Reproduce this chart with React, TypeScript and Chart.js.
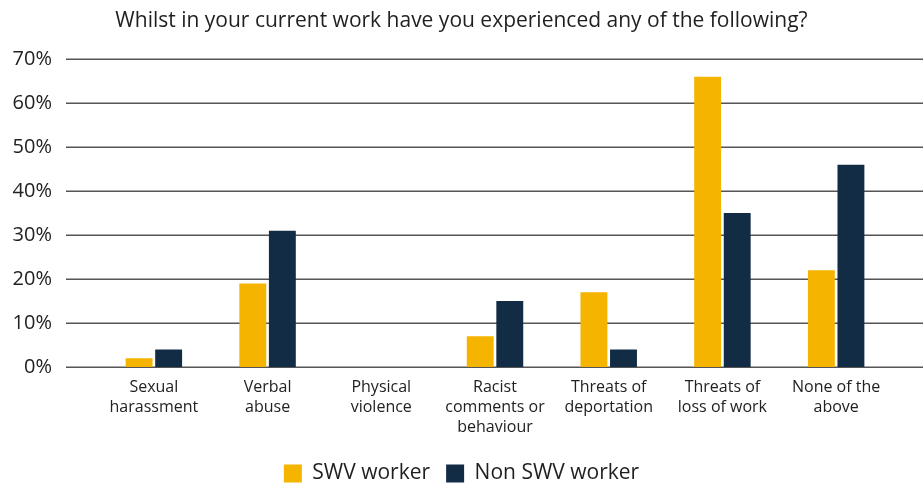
import React, { useEffect, useRef } from "react";
import { Chart, registerables } from "chart.js";

Chart.register(...registerables);

const categories: string[][] = [
  ["Sexual", "harassment"],
  ["Verbal", "abuse"],
  ["Physical", "violence"],
  ["Racist", "comments or", "behaviour"],
  ["Threats of", "deportation"],
  ["Threats of", "loss of work"],
  ["None of the", "above"],
];
const swvWorker = [2, 19, 0, 7, 17, 66, 22];
const nonSwvWorker = [4, 31, 0, 15, 4, 35, 46];
const yMax = 70;
const yStep = 10;

const FONT = "'Open Sans', 'Noto Sans', sans-serif";

const fullGrid = {
  id: "fullGrid",
  beforeDatasetsDraw(chart: any) {
    const { ctx, scales, width } = chart;
    const y = scales.y;
    ctx.save();
    ctx.strokeStyle = "#555555";
    ctx.lineWidth = 1.5;
    y.ticks.forEach((t: any) => {
      const py = Math.round(y.getPixelForValue(t.value)) + 0.25;
      ctx.beginPath();
      ctx.moveTo(66, py);
      ctx.lineTo(width, py);
      ctx.stroke();
    });
    ctx.restore();
  },
};

export default function App() {
  const ref = useRef<HTMLCanvasElement | null>(null);
  useEffect(() => {
    if (!ref.current) return;
    const chart = new Chart(ref.current, {
      type: "bar",
      data: {
        labels: categories,
        datasets: [
          {
            label: "SWV worker",
            data: swvWorker,
            backgroundColor: "#F4B400",
            barPercentage: 0.91,
            categoryPercentage: 0.52,
          },
          {
            label: "Non SWV worker",
            data: nonSwvWorker,
            backgroundColor: "#132C45",
            barPercentage: 0.91,
            categoryPercentage: 0.52,
          },
        ],
      },
      options: {
        responsive: false,
        animation: false,
        layout: { padding: { left: 0, right: 0, top: 0, bottom: -9 } },
        plugins: {
          title: {
            display: true,
            text: "Whilst in your current work have you experienced any of the following?",
            color: "#1f1f1f",
            font: { family: FONT, size: 21, weight: "normal" },
            padding: { top: 8, bottom: 26 },
          },
          legend: {
            position: "bottom",
            labels: {
              color: "#1f1f1f",
              font: { family: FONT, size: 21 },
              boxWidth: 18,
              boxHeight: 18,
              padding: 16,
            },
          },
          tooltip: { enabled: false },
        },
        scales: {
          x: {
            grid: { display: false, drawTicks: false },
            border: { display: false },
            ticks: {
              color: "#222222",
              font: { family: FONT, size: 16, lineHeight: 1.25 },
              maxRotation: 0,
              autoSkip: false,
              padding: 10,
            },
          },
          y: {
            min: 0,
            max: yMax,
            grid: { display: false, drawTicks: false },
            border: { display: false },
            ticks: {
              stepSize: yStep,
              color: "#222222",
              font: { family: FONT, size: 20 },
              padding: 45,
              callback: (v: any) => v + "%",
            },
            afterFit: (scale: any) => {
              scale.width = 97;
            },
          },
          yRight: {
            position: "right",
            display: true,
            grid: { display: false, drawTicks: false },
            border: { display: false },
            ticks: { display: false },
            afterFit: (scale: any) => {
              scale.width = 30;
            },
          },
        },
      },
      plugins: [fullGrid],
    });
    return () => chart.destroy();
  }, []);
  return (
    <div style={{ position: "fixed", left: 0, top: 0, width: 923, height: 485, background: "#fff" }}>
      <canvas ref={ref} width={923} height={485} />
    </div>
  );
}
